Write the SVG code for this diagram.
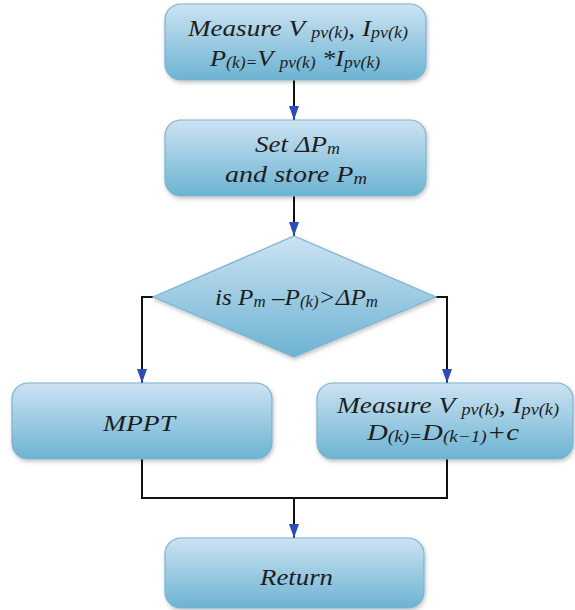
<svg xmlns="http://www.w3.org/2000/svg" width="575" height="610" viewBox="0 0 575 610">
<defs>
<linearGradient id="g" x1="0" y1="0" x2="0" y2="1">
<stop offset="0" stop-color="#cce3f3"/>
<stop offset="1" stop-color="#6cb3d2"/>
</linearGradient>
<marker id="ah" viewBox="0 0 14 10" refX="14" refY="5" markerWidth="14" markerHeight="10" markerUnits="userSpaceOnUse" orient="auto">
<path d="M0,0 L14,5 L0,10 Z" fill="#2d4db5"/>
</marker>
<filter id="sh" x="-10%" y="-10%" width="130%" height="140%">
<feGaussianBlur in="SourceAlpha" stdDeviation="2"/>
<feOffset dx="1" dy="2"/>
<feComponentTransfer><feFuncA type="linear" slope="0.25"/></feComponentTransfer>
<feMerge><feMergeNode/><feMergeNode in="SourceGraphic"/></feMerge>
</filter>
</defs>
<style>
.box{fill:url(#g);stroke:#7eb3cf;stroke-width:1.2;filter:url(#sh)}
.ln{fill:none;stroke:#111;stroke-width:2}
</style>
<g id="connectors">
<path class="ln" d="M294,80 V120" marker-end="url(#ah)"/>
<path class="ln" d="M294,196 V236" marker-end="url(#ah)"/>
<path class="ln" d="M153,297 H142 V383" marker-end="url(#ah)"/>
<path class="ln" d="M436,297 H447 V383" marker-end="url(#ah)"/>
<path class="ln" d="M142,459 V498 H447 V459"/>
<path class="ln" d="M294,498 V538" marker-end="url(#ah)"/>
</g>
<g font-family="'Liberation Serif', serif" font-style="italic" font-size="24" fill="#1e1e1e">
<g id="n1">
<rect class="box" x="165" y="4" width="261" height="76" rx="16"/>
<text x="188" y="36" textLength="220" lengthAdjust="spacingAndGlyphs">Measure V <tspan font-size="16" dy="2">pv(k)</tspan><tspan dy="-2">, I</tspan><tspan font-size="16" dy="2">pv(k)</tspan></text>
<text x="210" y="66" textLength="170" lengthAdjust="spacingAndGlyphs">P<tspan font-size="16" dy="2">(k)=</tspan><tspan dy="-2">V </tspan><tspan font-size="16" dy="2">pv(k)</tspan><tspan dy="-2"> *I</tspan><tspan font-size="16" dy="2">pv(k)</tspan></text>
</g>
<g id="n2">
<rect class="box" x="165" y="120" width="261" height="76" rx="16"/>
<text x="255" y="152" textLength="85" lengthAdjust="spacingAndGlyphs">Set ΔP<tspan font-size="16" dy="2">m</tspan></text>
<text x="225" y="182" textLength="142" lengthAdjust="spacingAndGlyphs">and store P<tspan font-size="16" dy="2">m</tspan></text>
</g>
<g id="n3">
<polygon class="box" points="294,236 436,297 294,357 153,297"/>
<text x="215" y="305" textLength="163" lengthAdjust="spacingAndGlyphs">is P<tspan font-size="16" dy="2">m</tspan><tspan dy="-2"> –P</tspan><tspan font-size="16" dy="2">(k)</tspan><tspan dy="-2">&gt;ΔP</tspan><tspan font-size="16" dy="2">m</tspan></text>
</g>
<g id="n4">
<rect class="box" x="12" y="383" width="260" height="76" rx="16"/>
<text x="103" y="431" textLength="72" lengthAdjust="spacingAndGlyphs">MPPT</text>
</g>
<g id="n5">
<rect class="box" x="317" y="383" width="256" height="76" rx="16"/>
<text x="337" y="413" textLength="222" lengthAdjust="spacingAndGlyphs">Measure V <tspan font-size="16" dy="2">pv(k)</tspan><tspan dy="-2">, I</tspan><tspan font-size="16" dy="2">pv(k)</tspan></text>
<text x="367" y="440" textLength="152" lengthAdjust="spacingAndGlyphs">D<tspan font-size="16" dy="2">(k)=</tspan><tspan dy="-2">D</tspan><tspan font-size="16" dy="2">(k−1)</tspan><tspan dy="-2">+c</tspan></text>
</g>
<g id="n6">
<rect class="box" x="165" y="538" width="259" height="70" rx="16"/>
<text x="260" y="585" textLength="73" lengthAdjust="spacingAndGlyphs">Return</text>
</g>
</g>
</svg>
